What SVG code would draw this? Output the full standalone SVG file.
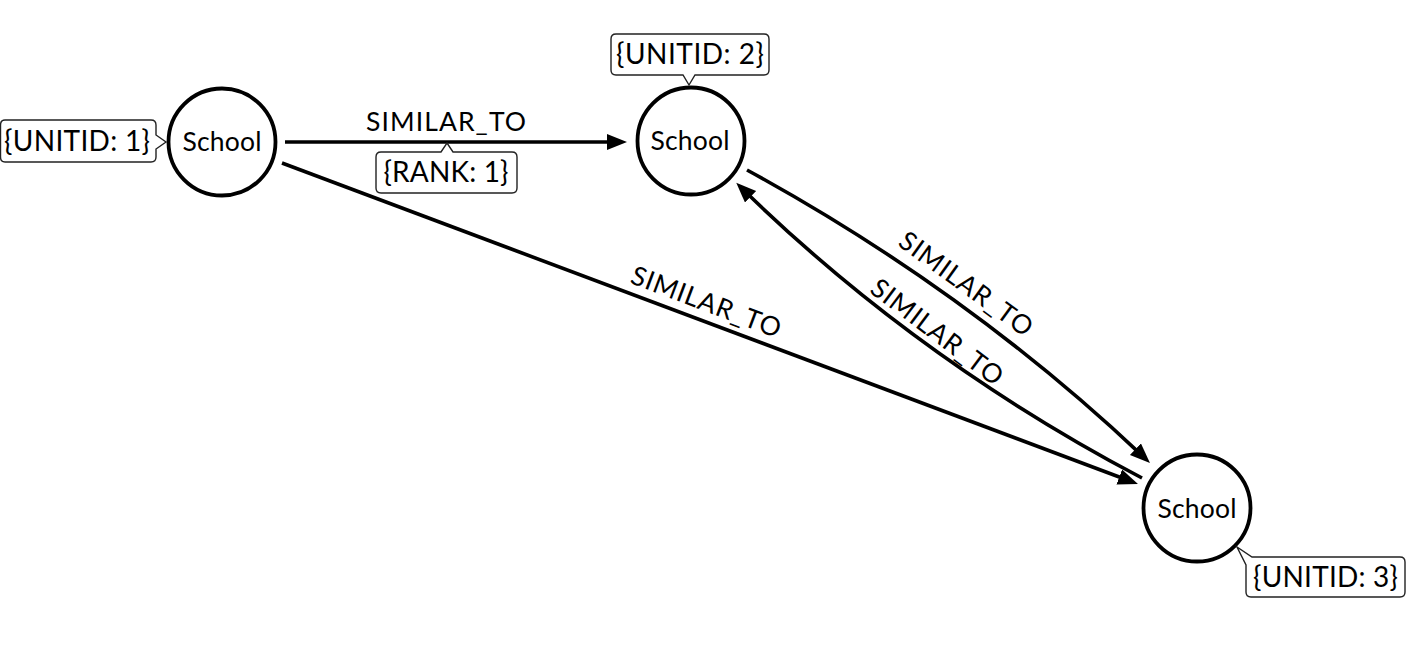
<svg xmlns="http://www.w3.org/2000/svg" width="1406" height="658" viewBox="0 0 1406 658">
<style>
  .node circle { fill: #ffffff; stroke: #000000; stroke-width: 3.8; }
  .node text, .lbl, .prop text { font-family: Lato, "Open Sans", "Liberation Sans", sans-serif; fill: #000000; }
  .node text { font-size: 26.5px; text-anchor: middle; }
  .edge { fill: none; stroke: #000000; stroke-width: 3.6; marker-end: url(#arrow); }
  .lbl { font-size: 26.5px; text-anchor: middle; }
  .prop path { fill: #ffffff; stroke: #222222; stroke-width: 1.4; }
  .prop text { font-size: 28px; text-anchor: middle; }
</style>
<defs>
  <marker id="arrow" markerUnits="userSpaceOnUse" markerWidth="22" markerHeight="18" refX="10" refY="8" orient="auto">
    <path d="M0,0 L20,8 L0,16 Z" fill="#000000"/>
  </marker>
</defs>
<rect width="1406" height="658" fill="#ffffff"/>
<g id="connectors">
  <path class="edge" d="M285,142 L617,142"/>
  <text class="lbl" x="446" y="131" textLength="160">SIMILAR_TO</text>
  <path class="edge" d="M282,163 L1128.6,480.5"/>
  <g transform="translate(706,302) rotate(20.6)"><text class="lbl" x="0" y="9" textLength="158">SIMILAR_TO</text></g>
  <path class="edge" d="M747,170 Q967,290 1142.7,456.1"/>
  <g transform="translate(966,284) rotate(36)"><text class="lbl" x="0" y="9" textLength="158">SIMILAR_TO</text></g>
  <path class="edge" d="M1142,478 Q918,360 743.4,189.8"/>
  <g transform="translate(937,332) rotate(37)"><text class="lbl" x="0" y="9" textLength="158">SIMILAR_TO</text></g>
</g>
<g id="rank-prop" class="prop">
  <path d="M381,152 H441 L447,143 L453,152 H512 Q517,152 517,157 V188 Q517,193 512,193 H381 Q376,193 376,188 V157 Q376,152 381,152 Z"/>
  <text x="446" y="182" textLength="125">{RANK: 1}</text>
</g>
<g id="node1" class="node">
  <circle cx="222" cy="142" r="53.5"/>
  <text x="222" y="151" textLength="79">School</text>
</g>
<g id="node1-prop" class="prop">
  <path d="M5,120 H151 Q156,120 156,125 V135 L166,142 L156,149 V157 Q156,162 151,162 H5 Q0.5,162 0.5,157 V125 Q0.5,120 5,120 Z"/>
  <text x="77" y="151" textLength="146">{UNITID: 1}</text>
</g>
<g id="node2" class="node">
  <circle cx="691" cy="141" r="53.5"/>
  <text x="690" y="150" textLength="79">School</text>
</g>
<g id="node2-prop" class="prop">
  <path d="M616,34 H764 Q769,34 769,39 V70 Q769,75 764,75 H695 L689,85 L683,75 H616 Q611,75 611,70 V39 Q611,34 616,34 Z"/>
  <text x="690" y="64" textLength="148">{UNITID: 2}</text>
</g>
<g id="node3" class="node">
  <circle cx="1197" cy="508" r="53.5"/>
  <text x="1197" y="518" textLength="79">School</text>
</g>
<g id="node3-prop" class="prop">
  <path d="M1252,557 H1400 Q1405,557 1405,562 V592 Q1405,597 1400,597 H1251 Q1246,597 1246,592 V565 L1237,547 Z"/>
  <text x="1325.5" y="587" textLength="145">{UNITID: 3}</text>
</g>
</svg>
